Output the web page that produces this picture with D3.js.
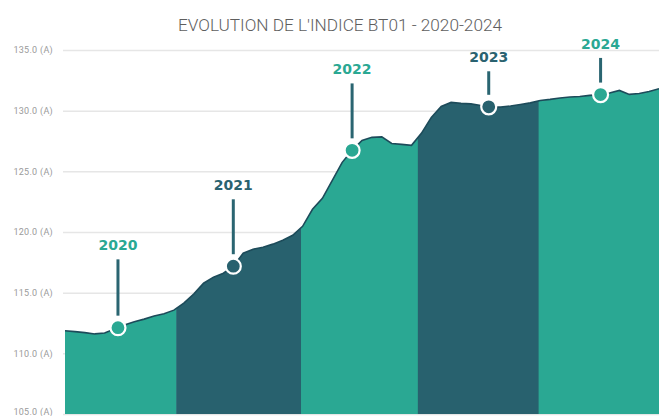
<!DOCTYPE html>
<html>
<head>
<meta charset="utf-8">
<script src="https://cdn.jsdelivr.net/npm/d3@7"></script>
<style>
  html, body { margin: 0; padding: 0; background: #fff; }
  svg { display: block; }
</style>
</head>
<body>
<svg id="chart" width="659" height="416"></svg>
<script>
// ---- DATA ----
const title = "EVOLUTION DE L'INDICE BT01 - 2020-2024";
// Monthly index values, Jan 2020 (index 0) .. Jan 2025 (index 60)
const bt01Values = [
  111.86, 111.79, 111.71, 111.60, 111.67, 112.00, 112.33, 112.61, 112.82, 113.07, 113.27, 113.56,
  114.14, 114.88, 115.78, 116.28, 116.60, 117.18, 118.25, 118.58, 118.75, 119.00, 119.32, 119.73,
  120.47, 121.87, 122.78, 124.26, 125.74, 126.73, 127.55, 127.80, 127.84, 127.30, 127.22, 127.14,
  128.13, 129.44, 130.35, 130.68, 130.60, 130.56, 130.43, 130.29, 130.29, 130.39, 130.51, 130.64,
  130.84, 130.93, 131.05, 131.13, 131.17, 131.26, 131.31, 131.46, 131.67, 131.34, 131.42, 131.58,
  131.81
];
const years = ["2020", "2021", "2022", "2023", "2024"];
// Year band boundaries, in months from Jan 2020
const yearBounds = [0, 11.3, 23.9, 35.7, 47.9, 60];
// Marker position of each year label (months from Jan 2020)
const markerMonths = [5.35, 17.0, 29.0, 42.8, 54.1];
// Level (index value) at which each year label sits
const labelLevels = [118.9, 123.85, 133.4, 134.4, 135.5];
const yTicks = [105, 110, 115, 120, 125, 130, 135];
const yTickLabels = ["105.0 (A)", "110.0 (A)", "115.0 (A)", "120.0 (A)", "125.0 (A)", "130.0 (A)", "135.0 (A)"];

// ---- STYLE ----
const LIGHT = "#2aa893";
const DARK = "#28616e";
const LINE = "#1d4b5a";
const STEM = "#2a6571";

const svg = d3.select("#chart");
const x = d3.scaleLinear().domain([0, 60]).range([65, 659]);
const y = d3.scaleLinear().domain([105, 135]).range([414, 50]);

// Title
svg.append("text")
  .attr("x", 340).attr("y", 31)
  .attr("text-anchor", "middle")
  .attr("font-family", "Roboto, 'Open Sans', sans-serif")
  .attr("font-weight", 300)
  .attr("font-size", 17)
  .attr("fill", "#5e5e5e")
  .attr("textLength", 324)
  .attr("lengthAdjust", "spacingAndGlyphs")
  .text(title);

// Grid + axis labels
const yAxis = d3.axisLeft(y)
  .tickValues(yTicks)
  .tickSize(-(659 - 63))
  .tickPadding(10)
  .tickFormat((d, i) => yTickLabels[i]);
const gAxis = svg.append("g").attr("transform", "translate(63,0)").call(yAxis);
gAxis.select(".domain").remove();
gAxis.selectAll(".tick line").attr("stroke", "#e6e6e6").attr("stroke-width", 1.5);
gAxis.selectAll(".tick text")
  .attr("fill", "#9a9a9a")
  .attr("font-family", "Roboto, sans-serif")
  .attr("font-size", 9)
  .attr("letter-spacing", 0.3)
  .attr("dy", (d) => d === 105 ? "0.1em" : "0.32em");

// Area bands
const area = d3.area()
  .x((d, i) => x(i))
  .y0(y(105))
  .y1(d => y(d))
  .curve(d3.curveLinear);

const defs = svg.append("defs");
years.forEach((yr, i) => {
  const x0 = x(yearBounds[i]) - (i > 0 ? 0.6 : 0);
  defs.append("clipPath").attr("id", "clip" + i)
    .append("rect")
    .attr("x", x0)
    .attr("y", 0)
    .attr("width", x(yearBounds[i + 1]) - x0)
    .attr("height", 416);
  svg.append("path")
    .datum(bt01Values)
    .attr("clip-path", `url(#clip${i})`)
    .attr("d", area)
    .attr("fill", i % 2 === 0 ? LIGHT : DARK);
});

// Top line
const line = d3.line().x((d, i) => x(i)).y(d => y(d)).curve(d3.curveLinear);
svg.append("path")
  .datum(bt01Values)
  .attr("d", line)
  .attr("fill", "none")
  .attr("stroke", LINE)
  .attr("stroke-width", 1.6);

// Markers
function valueAt(m) {
  const i0 = Math.floor(m), i1 = Math.min(i0 + 1, bt01Values.length - 1);
  return d3.interpolateNumber(bt01Values[i0], bt01Values[i1])(m - i0);
}
years.forEach((yr, i) => {
  const cx = x(markerMonths[i]);
  const cy = y(valueAt(markerMonths[i]));
  const ly = y(labelLevels[i]);
  const col = i % 2 === 0 ? LIGHT : DARK;
  svg.append("line")
    .attr("x1", cx).attr("x2", cx)
    .attr("y1", ly + 14).attr("y2", cy - 12)
    .attr("stroke", STEM).attr("stroke-width", 3);
  svg.append("circle")
    .attr("cx", cx).attr("cy", cy).attr("r", 7.5)
    .attr("fill", col)
    .attr("stroke", "#fff").attr("stroke-width", 2.2);
  svg.append("text")
    .attr("x", cx).attr("y", ly)
    .attr("dy", "0.36em")
    .attr("text-anchor", "middle")
    .attr("font-family", "'DejaVu Sans', sans-serif")
    .attr("font-weight", 700)
    .attr("font-size", 14)
    .attr("fill", i % 2 === 0 ? "#2aa893" : "#2a6270")
    .text(yr);
});
</script>
</body>
</html>
